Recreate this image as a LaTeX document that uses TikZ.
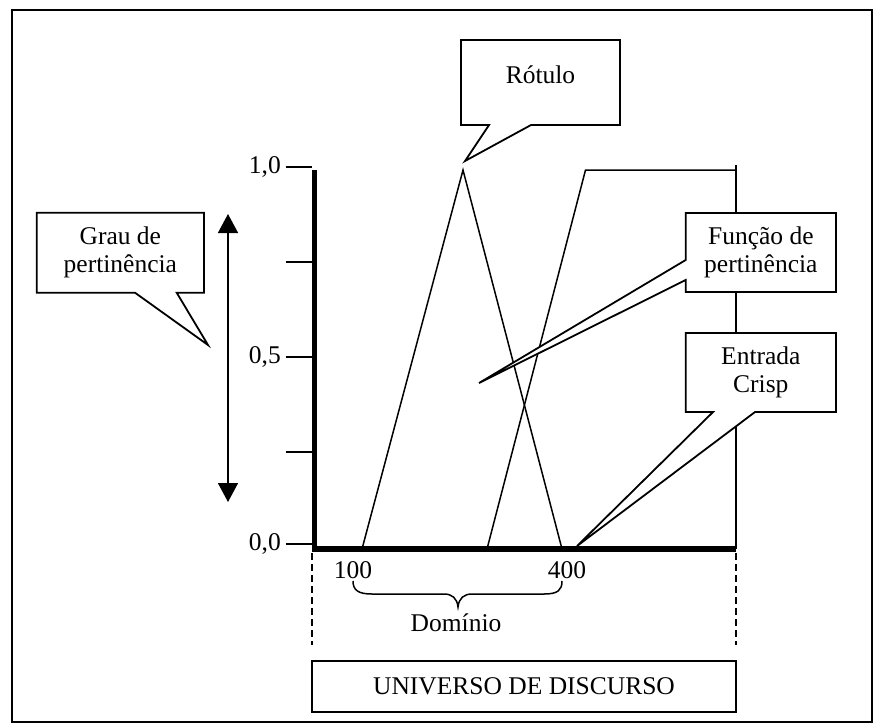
\documentclass[tikz,border=0pt]{standalone}
\usepackage{fontspec}
\setmainfont{Liberation Serif}
\usetikzlibrary{arrows.meta,calc}
\newcommand\figfont{\fontsize{25.5}{28}\selectfont}
\begin{document}
\begin{tikzpicture}[x=1pt,y=-1pt,
  every node/.style={font=\figfont},
  thinline/.style={line width=1.5pt},
  axisline/.style={line width=5.5pt, line join=miter},
  boxline/.style={line width=1.8pt, line join=miter},
  dashline/.style={line width=1.5pt, dash pattern=on 7pt off 4pt},
  shapebox/.style={inner sep=0pt, outer sep=0pt},
  ticklabel/.style={anchor=east, inner sep=0pt},
  tipstyle/.style={{Triangle[length=19pt,width=20pt]}-{Triangle[length=19pt,width=20pt]}}]

\useasboundingbox (0,0) rectangle (874,724);

% outer frame
\draw[line width=2pt] (12,10) rectangle (872,722);

% membership functions: triangle and trapezoid
\coordinate (t1a) at (362,549);
\coordinate (t1b) at (463,170);
\coordinate (t1c) at (562,549);
\draw[thinline] (t1a) -- (t1b) -- (t1c);
\coordinate (t2a) at (487,549);
\coordinate (t2b) at (585.5,170);
\coordinate (t2c) at (736,170);
\coordinate (t2top) at (736,165);
\coordinate (t2d) at (736,549);
\draw[thinline] (t2a) -- (t2b) -- (t2c);
\draw[thinline] (t2top) -- (t2d);

% axes
\coordinate (ytop) at (314.5,170);
\coordinate (orig) at (314.5,549);
\coordinate (xend) at (736,549);
\draw[axisline] (ytop) -- (orig) -- (xend);

% ticks and tick labels
\foreach \yy/\lab/\nm in {167/{1,0}/a,262//b,357/{0,5}/c,452//d,544/{0,0}/e}{
  \coordinate (tk\nm) at (285.5,\yy);
  \coordinate (tkend\nm) at (312,\yy);
  \draw[thinline] (tk\nm) -- (tkend\nm);
  \node[ticklabel] (tl\nm) at (281,\yy) {\lab};
}

% double arrow for the membership degree
\coordinate (arrtop) at (228,214);
\coordinate (arrbot) at (228,502);
\draw[thinline, tipstyle] (arrtop) -- (arrbot);

% dashed limits of the universe
\coordinate (dl1) at (312,553);
\coordinate (dl2) at (312,645);
\coordinate (dr1) at (736,553);
\coordinate (dr2) at (736,645);
\draw[dashline] (dl1) -- (dl2);
\draw[dashline] (dr1) -- (dr2);

% domain labels and brace
\node (v100) at (353,570) {100};
\node (v400) at (567,570) {400};
\coordinate (brl) at (353,581);
\coordinate (brm) at (458,607);
\coordinate (brr) at (562,581);
\draw[thinline] (brl) .. controls (353,590) and (358,594) .. (372,594) -- (444,594)
  .. controls (452,594) and (457,598) .. (brm)
  .. controls (459,598) and (464,594) .. (472,594) -- (544,594)
  .. controls (558,594) and (562,590) .. (brr);
\node (dom) at (456,623) {Domínio};

% universe of discourse box
\node[draw, boxline, shapebox, minimum width=424pt, minimum height=51pt] (univ) at (524,686.5) {UNIVERSO DE DISCURSO};

% callout: Rótulo
\node[shapebox, minimum width=159pt, minimum height=85pt] (rot) at (540.5,82.5) {};
\coordinate (rottip) at (465,161);
\filldraw[fill=white, boxline] (rot.north west) -- (rot.north east) -- (rot.south east)
  -- ([xshift=-89pt]rot.south east) -- (rottip) -- ([xshift=28pt]rot.south west)
  -- (rot.south west) -- cycle;
\node (rottxt) at (540.5,75) {Rótulo};

% callout: Grau de pertinência
\node[shapebox, minimum width=167.3pt, minimum height=80pt] (grau) at (120.35,252.7) {};
\coordinate (grautip) at (208,345);
\filldraw[fill=white, boxline] (grau.north west) -- (grau.north east) -- (grau.south east)
  -- ([xshift=-27.3pt]grau.south east) -- (grautip) -- ([xshift=98.3pt]grau.south west)
  -- (grau.south west) -- cycle;
\node[align=center] at (grau.center) {Grau de\\pertinência};

% callout: Função de pertinência
\node[shapebox, minimum width=150.3pt, minimum height=79pt] (func) at (760.85,252.5) {};
\coordinate (functip) at (479,383);
\filldraw[fill=white, boxline] (func.north west) -- (func.north east) -- (func.south east)
  -- (func.south west) -- ([yshift=12pt]func.south west) -- (functip)
  -- ([yshift=-47pt]func.north west) -- cycle;
\node[align=center] at (func.center) {Função de\\pertinência};

% callout: Entrada Crisp
\node[shapebox, minimum width=150.3pt, minimum height=79pt] (crisp) at (760.85,372.5) {};
\coordinate (crisptip) at (577,546);
\filldraw[fill=white, boxline] (crisp.north west) -- (crisp.north east) -- (crisp.south east)
  -- ([xshift=-81pt]crisp.south east) -- (crisptip) -- ([xshift=27.3pt]crisp.south west)
  -- (crisp.south west) -- cycle;
\node[align=center] at (crisp.center) {Entrada\\Crisp};

\end{tikzpicture}
\end{document}
